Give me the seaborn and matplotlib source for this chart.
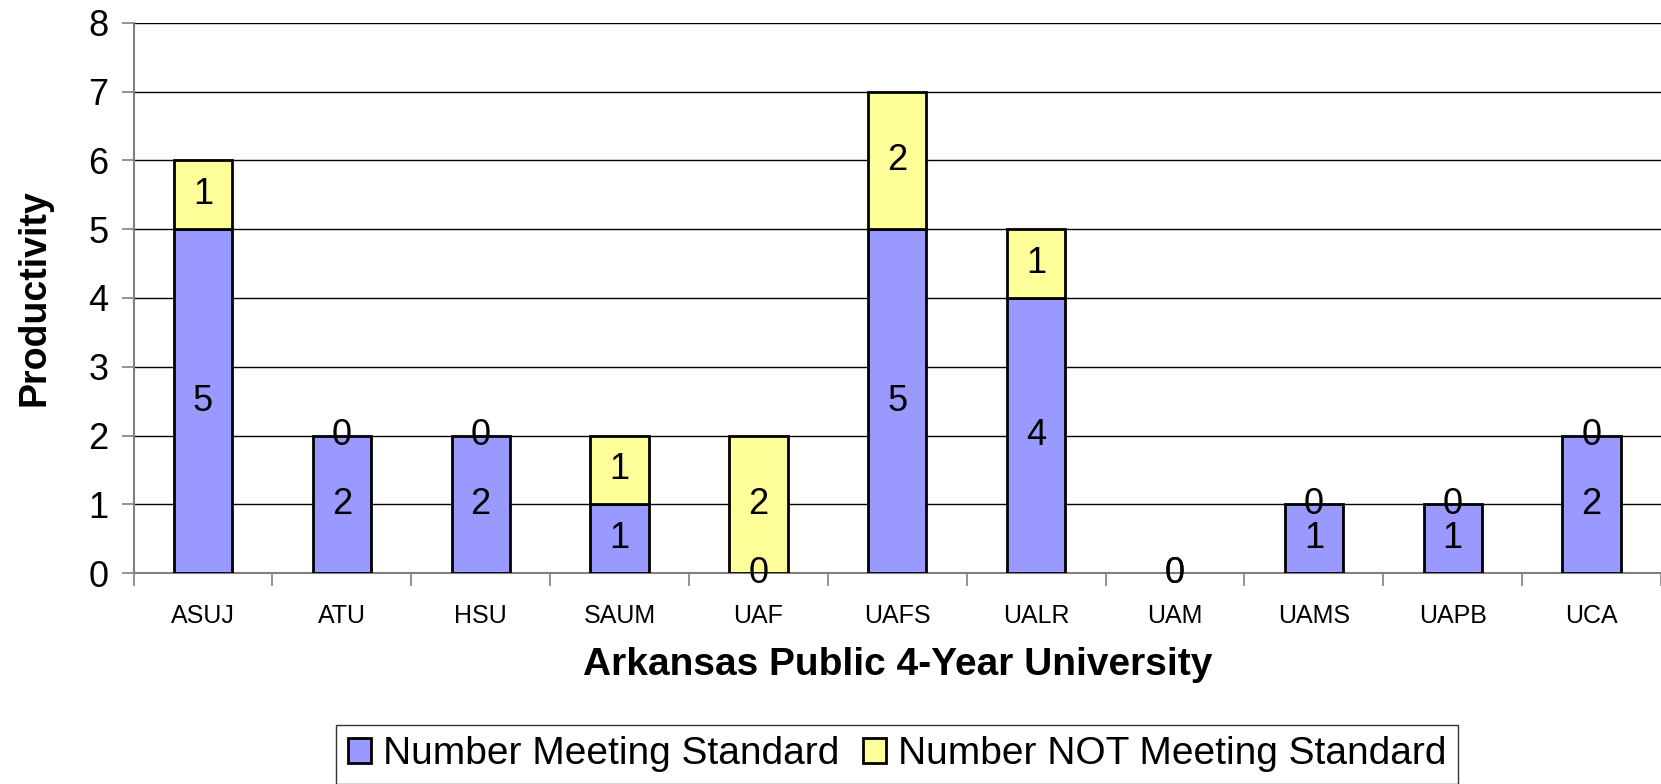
import matplotlib
matplotlib.use('Agg')
import matplotlib.pyplot as plt
import seaborn as sns
from matplotlib.ticker import FixedLocator

# DATA
universities = ["ASUJ", "ATU", "HSU", "SAUM", "UAF", "UAFS", "UALR", "UAM", "UAMS", "UAPB", "UCA"]
meeting = [5, 2, 2, 1, 0, 5, 4, 0, 1, 1, 2]
not_meeting = [1, 0, 0, 1, 2, 2, 1, 0, 0, 0, 0]
y_ticks = [0, 1, 2, 3, 4, 5, 6, 7, 8]

BLUE = "#9999FF"
YELLOW = "#FFFF99"

sns.set_style("white")
plt.rcParams['font.family'] = ['Liberation Sans', 'DejaVu Sans']
plt.rcParams['text.color'] = 'black'
plt.rcParams['axes.labelcolor'] = 'black'
plt.rcParams['xtick.color'] = 'black'
plt.rcParams['ytick.color'] = 'black'

fig = plt.figure(figsize=(16.61, 7.84), dpi=100)
ax = fig.add_axes([0.0804, 0.2691, 0.9196, 0.7016])

sns.barplot(x=universities, y=meeting, color=BLUE, width=0.42, saturation=1,
            edgecolor="black", linewidth=2, label="Number Meeting Standard", ax=ax, zorder=3)
sns.barplot(x=universities, y=not_meeting, bottom=meeting, color=YELLOW, width=0.42, saturation=1,
            edgecolor="black", linewidth=2, label="Number NOT Meeting Standard", ax=ax, zorder=3)

# zero-height bars show no outline in the original
for p in ax.patches:
    if p.get_height() == 0:
        p.set_edgecolor("none")

for cont in ax.containers:
    ax.bar_label(cont, label_type="center", fontsize=26, zorder=5)

ax.set_ylim(0, 8)
ax.set_xlim(-0.5, len(universities) - 0.5)
ax.set_yticks(y_ticks)
ax.yaxis.grid(True, color="black", linewidth=1)
ax.set_axisbelow(True)
for s in ["top", "right"]:
    ax.spines[s].set_visible(False)
ax.spines["left"].set_color("#808080")
ax.spines["bottom"].set_color("#808080")
ax.spines["left"].set_linewidth(1.5)
ax.spines["bottom"].set_linewidth(1.5)

ax.tick_params(axis="y", direction="out", length=9, width=1.2, color="#808080",
               labelsize=26, pad=9, left=True)
ax.tick_params(axis="x", which="major", length=0, labelsize=18, pad=22)
ax.xaxis.set_minor_locator(FixedLocator([i - 0.5 for i in range(len(universities) + 1)]))
ax.tick_params(axis="x", which="minor", direction="out", length=9, width=1.2, color="#808080", bottom=True)

ax.set_ylabel("Productivity", fontsize=27, fontweight="bold", labelpad=26)
ax.set_xlabel("Arkansas Public 4-Year University", fontsize=28, fontweight="bold", labelpad=14)

handles, labels = ax.get_legend_handles_labels()
ax.legend(handles, labels, loc="lower center", bbox_to_anchor=(0.54, -0.025),
          bbox_transform=fig.transFigure, ncol=2, fontsize=28, frameon=True, fancybox=False,
          edgecolor="black", handlelength=0.6, handleheight=0.6, handletextpad=0.3,
          columnspacing=0.6, borderpad=0.3)
ax.get_legend().get_frame().set_linewidth(1)

fig.savefig("out.png", dpi=100)
